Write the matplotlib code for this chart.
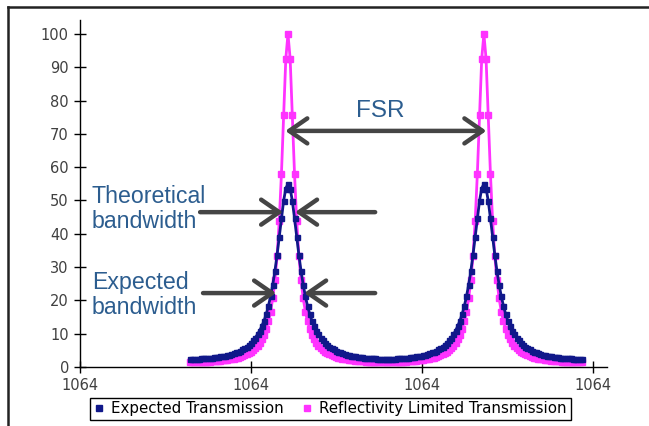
import numpy as np
import matplotlib
matplotlib.use('Agg')
import matplotlib.pyplot as plt
from matplotlib.lines import Line2D
from matplotlib.ticker import FormatStrFormatter

# wavelength sweep (nm), 181 samples
WL_START, WL_END, N_POINTS = 1063.9143, 1064.1433, 181

# reflectivity limited transmission (%)
reflectivity_limited = [
    1.5, 1.5, 1.5, 1.5, 1.5, 1.5, 1.6, 1.6, 1.6, 1.6, 1.7, 1.7, 1.8, 1.8, 1.9, 2.0,
    2.1, 2.2, 2.3, 2.4, 2.5, 2.7, 2.8, 3.0, 3.3, 3.5, 3.8, 4.2, 4.6, 5.1, 5.7, 6.4,
    7.3, 8.4, 9.7, 11.5, 13.7, 16.6, 20.6, 26.0, 33.4, 43.9, 58.1, 75.7, 92.6,
    100.0,
    92.6, 75.7, 58.1, 43.9, 33.4, 26.0, 20.6, 16.6, 13.7, 11.5, 9.7, 8.4, 7.3, 6.4,
    5.7, 5.1, 4.6, 4.2, 3.8, 3.5, 3.3, 3.0, 2.8, 2.7, 2.5, 2.4, 2.3, 2.2, 2.1, 2.0,
    1.9, 1.8, 1.8, 1.7, 1.7, 1.6, 1.6, 1.6, 1.6, 1.5, 1.5, 1.5, 1.5, 1.5, 1.5,
    1.5, 1.5, 1.5, 1.5, 1.5, 1.6, 1.6, 1.6, 1.6, 1.7, 1.7, 1.8, 1.8, 1.9, 2.0,
    2.1, 2.2, 2.3, 2.4, 2.5, 2.7, 2.8, 3.0, 3.3, 3.5, 3.8, 4.2, 4.6, 5.1, 5.7, 6.4,
    7.3, 8.4, 9.7, 11.5, 13.7, 16.6, 20.6, 26.0, 33.4, 43.9, 58.1, 75.7, 92.6,
    100.0,
    92.6, 75.7, 58.1, 43.9, 33.4, 26.0, 20.6, 16.6, 13.7, 11.5, 9.7, 8.4, 7.3, 6.4,
    5.7, 5.1, 4.6, 4.2, 3.8, 3.5, 3.3, 3.0, 2.8, 2.7, 2.5, 2.4, 2.3, 2.2, 2.1, 2.0,
    1.9, 1.8, 1.8, 1.7, 1.7, 1.6, 1.6, 1.6, 1.6, 1.5, 1.5, 1.5, 1.5, 1.5, 1.5,
]

# expected transmission (%)
expected = [
    2.5, 2.5, 2.5, 2.5, 2.5, 2.6, 2.6, 2.6, 2.7, 2.8, 2.8, 2.9, 3.0, 3.1, 3.2, 3.3,
    3.4, 3.6, 3.7, 3.9, 4.1, 4.4, 4.6, 4.9, 5.3, 5.7, 6.1, 6.7, 7.3, 8.0, 8.8, 9.8,
    10.9, 12.3, 13.9, 15.9, 18.3, 21.2, 24.7, 28.8, 33.7, 39.1, 44.7, 49.9, 53.6,
    55.0,
    53.6, 49.9, 44.7, 39.1, 33.7, 28.8, 24.7, 21.2, 18.3, 15.9, 13.9, 12.3, 10.9, 9.8,
    8.8, 8.0, 7.3, 6.7, 6.1, 5.7, 5.3, 4.9, 4.6, 4.4, 4.1, 3.9, 3.7, 3.6, 3.4, 3.3,
    3.2, 3.1, 3.0, 2.9, 2.8, 2.8, 2.7, 2.6, 2.6, 2.6, 2.5, 2.5, 2.5, 2.5, 2.5,
    2.5, 2.5, 2.5, 2.5, 2.6, 2.6, 2.6, 2.7, 2.8, 2.8, 2.9, 3.0, 3.1, 3.2, 3.3,
    3.4, 3.6, 3.7, 3.9, 4.1, 4.4, 4.6, 4.9, 5.3, 5.7, 6.1, 6.7, 7.3, 8.0, 8.8, 9.8,
    10.9, 12.3, 13.9, 15.9, 18.3, 21.2, 24.7, 28.8, 33.7, 39.1, 44.7, 49.9, 53.6,
    55.0,
    53.6, 49.9, 44.7, 39.1, 33.7, 28.8, 24.7, 21.2, 18.3, 15.9, 13.9, 12.3, 10.9, 9.8,
    8.8, 8.0, 7.3, 6.7, 6.1, 5.7, 5.3, 4.9, 4.6, 4.4, 4.1, 3.9, 3.7, 3.6, 3.4, 3.3,
    3.2, 3.1, 3.0, 2.9, 2.8, 2.8, 2.7, 2.6, 2.6, 2.6, 2.5, 2.5, 2.5, 2.5, 2.5,
]

x_ticks = [1063.85, 1063.95, 1064.05, 1064.15]
y_ticks = list(range(0, 101, 10))

NAVY = '#10188a'
PINK = '#ff33ff'
TEXT_BLUE = '#2c5d8f'
ARROW = '#454545'

wl = np.linspace(WL_START, WL_END, N_POINTS)

fig = plt.figure(figsize=(6.49, 4.26), dpi=100)
ax = fig.add_axes([80 / 649, 59 / 426, 527 / 649, 347 / 426])

ax.plot(wl, reflectivity_limited, color=PINK, lw=2.0, marker='s', ms=3.8, mec=PINK, zorder=2)
ax.plot(wl, expected, color=NAVY, lw=2.0, marker='s', ms=3.6, mec=NAVY, zorder=3)

ax.set_xlim(1063.85, 1064.158)
ax.set_ylim(0, 104.2)
ax.set_xticks(x_ticks)
ax.set_yticks(y_ticks)
ax.xaxis.set_major_formatter(FormatStrFormatter('%.0f'))
for s in ['top', 'right']:
    ax.spines[s].set_visible(False)
for s in ['left', 'bottom']:
    ax.spines[s].set_linewidth(1.0)
ax.tick_params(direction='inout', length=8, width=1, labelsize=10.5, labelcolor='#404040', pad=4)

# annotations
afont = dict(family=['Liberation Sans', 'DejaVu Sans'], color=TEXT_BLUE)
ax.text(1064.0254, 76.9, 'FSR', fontsize=17.5, ha='center', va='center', **afont)
ax.text(1063.857, 47.5, 'Theoretical\nbandwidth', fontsize=16.7, ha='left', va='center', linespacing=1.12, **afont)
ax.text(1063.857, 21.5, 'Expected\nbandwidth', fontsize=16.7, ha='left', va='center', linespacing=1.12, **afont)

head = '->,head_length=1.3,head_width=0.9'
def arrow(x0, x1, y, style=head):
    ax.annotate('', xy=(x1, y), xytext=(x0, y),
                arrowprops=dict(arrowstyle=style, color=ARROW, lw=3.2, mutation_scale=10,
                                shrinkA=0, shrinkB=0, capstyle='round'))

arrow(1064.0875, 1063.9700, 70.9, '<->,head_length=1.3,head_width=0.9')
arrow(1063.9202, 1063.9687, 46.5)
arrow(1064.0225, 1063.9757, 46.5)
arrow(1063.9219, 1063.9646, 22.2)
arrow(1064.0225, 1063.9810, 22.2)

handles = [
    Line2D([], [], ls='none', marker='s', ms=5, color=NAVY),
    Line2D([], [], ls='none', marker='s', ms=5, color=PINK),
]
fig.legend(handles, ['Expected Transmission', 'Reflectivity Limited Transmission'],
           loc='center', bbox_to_anchor=(330.5 / 649, 17 / 426), ncol=2, fontsize=10.8,
           frameon=True, fancybox=False, edgecolor='black', framealpha=1,
           handlelength=0.6, handletextpad=0.5, columnspacing=1.3,
           borderpad=0.25, borderaxespad=0)

# outer frame (top and left edges of the original panel)
fig.add_artist(Line2D([8 / 649, 1.0], [1 - 7 / 426, 1 - 7 / 426], transform=fig.transFigure, color='#222222', lw=1.8))
fig.add_artist(Line2D([8 / 649, 8 / 649], [0, 1 - 7 / 426], transform=fig.transFigure, color='#222222', lw=1.8))

fig.savefig('out.png', dpi=100)
